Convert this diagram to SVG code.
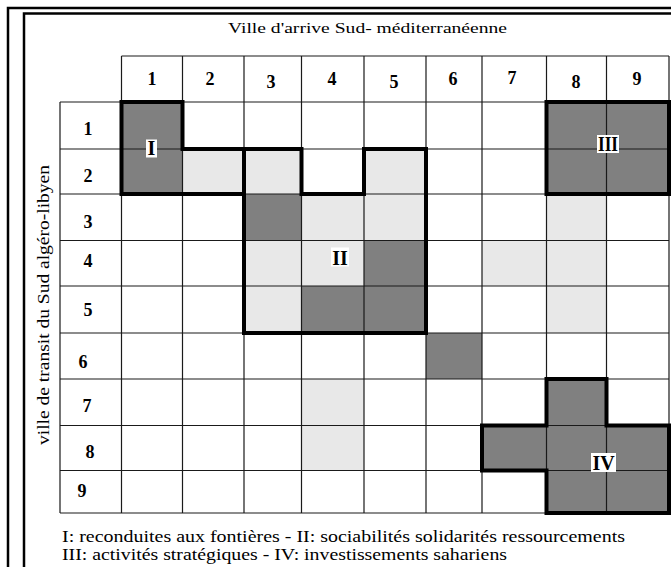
<svg xmlns="http://www.w3.org/2000/svg" width="671" height="567" viewBox="0 0 671 567">
<style>
.frame{fill:none;stroke:#000;stroke-width:2.5}
.dk{fill:#808080}
.lt{fill:#e8e8e8}
.grid{fill:none;stroke:#1a1a1a;stroke-width:1.2}
.thick{fill:none;stroke:#000;stroke-width:4;stroke-linejoin:miter}
text{font-family:'Liberation Serif','Times New Roman',Times,serif;fill:#000}
.num{font-weight:bold;font-size:18px;text-anchor:middle}
.lab{font-weight:bold;font-size:20px;text-anchor:middle}
.lbg{fill:#fff}
</style>
<rect x="0" y="0" width="671" height="567" fill="#fff"/>
<g id="frame">
<path class="frame" d="M8,570 V8 H675"/>
<path class="frame" d="M24,570 V13.5 H675"/>
</g>
<g id="titles" font-family="Liberation Serif, serif">
<text x="228" y="33" font-size="15.5" textLength="279" lengthAdjust="spacingAndGlyphs">Ville d'arrive Sud- méditerranéenne</text>
<text font-size="16" text-anchor="middle" transform="translate(49,305) rotate(-90)" textLength="280" lengthAdjust="spacingAndGlyphs">ville de transit du Sud algéro-libyen</text>
</g>
<g id="fills">
<rect class="dk" x="121.5" y="102" width="61" height="92"/>
<rect class="dk" x="546.5" y="102" width="122.5" height="92"/>
<rect class="dk" x="244" y="194" width="57.5" height="46.5"/>
<rect class="dk" x="364" y="240.5" width="62" height="45.5"/>
<rect class="dk" x="301.5" y="286" width="124.5" height="47"/>
<rect class="dk" x="426" y="333" width="56" height="46"/>
<rect class="dk" x="546.5" y="379" width="60" height="46.5"/>
<rect class="dk" x="482" y="425.5" width="187" height="45"/>
<rect class="dk" x="546.5" y="470.5" width="122.5" height="42.5"/>
<rect class="lt" x="182.5" y="149" width="119" height="45"/>
<rect class="lt" x="364" y="149" width="62" height="45"/>
<rect class="lt" x="301.5" y="194" width="62.5" height="46.5"/>
<rect class="lt" x="364" y="194" width="62" height="46.5"/>
<rect class="lt" x="546.5" y="194" width="60" height="46.5"/>
<rect class="lt" x="244" y="240.5" width="120" height="45.5"/>
<rect class="lt" x="482" y="240.5" width="124.5" height="45.5"/>
<rect class="lt" x="244" y="286" width="57.5" height="47"/>
<rect class="lt" x="546.5" y="286" width="60" height="47"/>
<rect class="lt" x="301.5" y="379" width="62.5" height="91.5"/>
</g>
<g id="grid">
<path class="grid" d="M121.5,56 H669 M60,102 H669 M60,149 H669 M60,194 H669 M60,240.5 H669 M60,286 H669 M60,333 H669 M60,379 H669 M60,425.5 H669 M60,470.5 H669 M60,513 H669"/>
<path class="grid" d="M60,102 V513 M121.5,56 V513 M182.5,56 V513 M244,56 V513 M301.5,56 V513 M364,56 V513 M426,56 V513 M482,56 V513 M546.5,56 V513 M606.5,56 V513 M669,56 V513"/>
</g>
<g id="regions">
<path class="thick" d="M121.5,102 H182.5 V149 H244 V194 H121.5 Z"/>
<path class="thick" d="M244,149 H301.5 V194 H364 V149 H426 V333 H244 Z"/>
<path class="thick" d="M546.5,102 H669 V194 H546.5 Z"/>
<path class="thick" d="M546.5,379 H606.5 V425.5 H669 V513 H546.5 V470.5 H482 V425.5 H546.5 Z"/>
</g>
<g id="colnums">
<text class="num" x="152" y="85">1</text>
<text class="num" x="210" y="85">2</text>
<text class="num" x="271" y="88">3</text>
<text class="num" x="332" y="85">4</text>
<text class="num" x="394" y="88">5</text>
<text class="num" x="453" y="85">6</text>
<text class="num" x="512" y="84" font-weight="normal">7</text>
<text class="num" x="576" y="88">8</text>
<text class="num" x="637" y="85">9</text>
</g>
<g id="rownums">
<text class="num" x="88" y="135">1</text>
<text class="num" x="88" y="182">2</text>
<text class="num" x="88" y="228">3</text>
<text class="num" x="88" y="267">4</text>
<text class="num" x="88" y="316">5</text>
<text class="num" x="83" y="368">6</text>
<text class="num" x="87" y="412" font-weight="normal">7</text>
<text class="num" x="90" y="458">8</text>
<text class="num" x="82" y="497">9</text>
</g>
<g id="label-I">
<rect class="lbg" x="146" y="139.5" width="11" height="18"/>
<text class="lab" x="151.5" y="155">I</text>
</g>
<g id="label-II">
<rect class="lbg" x="331" y="247.5" width="18" height="19"/>
<text class="lab" x="340" y="265">II</text>
</g>
<g id="label-III">
<rect class="lbg" x="597" y="135" width="22" height="18"/>
<text class="lab" x="608" y="151" textLength="20" lengthAdjust="spacingAndGlyphs">III</text>
</g>
<g id="label-IV">
<rect class="lbg" x="591" y="453" width="25" height="19"/>
<text class="lab" x="603.5" y="470">IV</text>
</g>
<g id="legend">
<text x="62" y="542" font-size="16" textLength="563" lengthAdjust="spacingAndGlyphs">I: reconduites aux fontières - II: sociabilités solidarités ressourcements</text>
<text x="62" y="560" font-size="16" textLength="445" lengthAdjust="spacingAndGlyphs">III: activités stratégiques - IV: investissements sahariens</text>
</g>
</svg>
